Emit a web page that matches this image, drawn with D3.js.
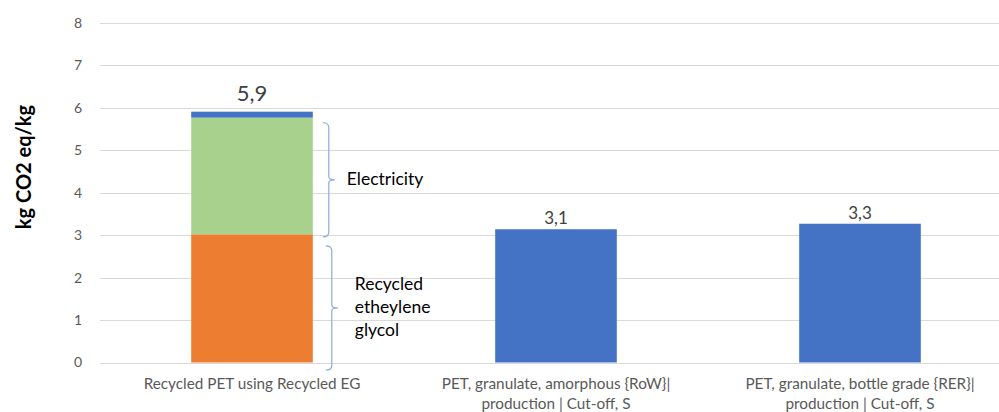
<!DOCTYPE html>
<html>
<head>
<meta charset="utf-8">
<script src="https://cdn.jsdelivr.net/npm/d3@7"></script>
<style>
  body { margin: 0; background: #fff; }
  svg { font-family: Lato, "Open Sans", sans-serif; display: block; }
</style>
</head>
<body>
<svg width="999" height="412"></svg>
<script>
// chart data
const categories = [
  ["Recycled PET using Recycled EG"],
  ["PET, granulate, amorphous {RoW}|", "production | Cut-off, S"],
  ["PET, granulate, bottle grade {RER}|", "production | Cut-off, S"]
];
const seriesNames = ["Recycled ethylene glycol", "Electricity", "Other"];
const egValues = [3.02, 0, 0];
const electricityValues = [2.75, 0, 0];
const otherValues = [0.14, 3.14, 3.27];
const yTicks = [0, 1, 2, 3, 4, 5, 6, 7, 8];

// brace annotations (value range in kg CO2 eq/kg)
const braces = [
  { lines: ["Electricity"], from: 2.96, to: 5.65, dx: 16, tx: 18 },
  { lines: ["Recycled", "etheylene", "glycol"], from: -0.18, to: 2.75, dx: 19, tx: 23 }
];

const colors = ["#ED7D31", "#A9D18E", "#4472C4"];

const svg = d3.select("svg");
const W = 999;

const keys = categories.map((d, i) => "c" + i);
const rows = keys.map((k, i) => ({
  key: k, lines: categories[i],
  s0: egValues[i], s1: electricityValues[i], s2: otherValues[i]
}));

const x = d3.scaleBand().domain(keys).range([100, 1012])
  .paddingInner(0.6).paddingOuter(0.3);
const y = d3.scaleLinear().domain([0, 8]).range([362.5, 23]);

// gridlines
svg.append("g").selectAll("line").data(yTicks).enter().append("line")
  .attr("x1", 100).attr("x2", W)
  .attr("y1", d => Math.round(y(d)) + 0.5).attr("y2", d => Math.round(y(d)) + 0.5)
  .attr("stroke", "#D9D9D9").attr("stroke-width", 1);

// y axis labels
const yAxis = d3.axisLeft(y).tickValues(yTicks).tickSize(0).tickPadding(0);
svg.append("g").attr("transform", "translate(82,0)").call(yAxis)
  .call(g => g.select(".domain").remove())
  .selectAll("text")
  .attr("fill", "#595959").style("font-size", "14px")
  .style("font-family", "Lato, sans-serif");

// y title
svg.append("text")
  .attr("transform", "translate(31,167) rotate(-90)")
  .attr("text-anchor", "middle")
  .style("font-size", "20px").style("font-weight", "bold")
  .attr("fill", "#000")
  .text("kg CO2 eq/kg");

// stacked bars
const stack = d3.stack().keys(["s0", "s1", "s2"]);
const layers = stack(rows);
svg.append("g").selectAll("g").data(layers).enter().append("g")
  .attr("fill", (d, i) => colors[i])
  .selectAll("rect").data(d => d).enter().append("rect")
  .attr("x", d => x(d.data.key))
  .attr("width", x.bandwidth())
  .attr("y", d => y(d[1]))
  .attr("height", d => Math.max(0, y(d[0]) - y(d[1])));

// total labels
const fmt = d3.formatLocale({ decimal: ",", thousands: ".", grouping: [3], currency: ["", ""] }).format(".1f");
svg.append("g").selectAll("text").data(rows).enter().append("text")
  .attr("x", d => x(d.key) + x.bandwidth() / 2)
  .attr("y", (d, i) => y(d.s0 + d.s1 + d.s2) - (i === 0 ? 11 : 5))
  .attr("text-anchor", "middle")
  .attr("fill", "#404040")
  .style("font-size", (d, i) => i === 0 ? "22px" : "17px")
  .text(d => fmt(d.s0 + d.s1 + d.s2));

// category labels
const cat = svg.append("g").selectAll("text").data(rows).enter().append("text")
  .attr("x", d => x(d.key) + x.bandwidth() / 2)
  .attr("y", 389)
  .attr("text-anchor", "middle")
  .attr("fill", "#595959")
  .style("font-size", "15.3px");
cat.selectAll("tspan").data(d => d.lines).enter().append("tspan")
  .attr("x", function () { return d3.select(this.parentNode).attr("x"); })
  .attr("dy", (d, i) => i === 0 ? 0 : 20)
  .text(d => d);

// braces
const barRight = x(keys[0]) + x.bandwidth();
braces.forEach(b => {
  const bx = barRight + b.dx;
  const top = y(b.to), bot = y(b.from), mid = (top + bot) / 2;
  const p = `M${bx - 6},${top} Q${bx},${top} ${bx},${top + 5} L${bx},${mid - 3} Q${bx},${mid} ${bx + 6},${mid}`
    + ` Q${bx},${mid} ${bx},${mid + 3} L${bx},${bot - 5} Q${bx},${bot} ${bx - 6},${bot}`;
  svg.append("path").attr("d", p).attr("fill", "none")
    .attr("stroke", "#8FAADC").attr("stroke-width", 1.2);
  const t = svg.append("text")
    .attr("y", mid + 5 - (b.lines.length - 1) / 2 * 23)
    .attr("fill", "#000").style("font-size", "17.5px");
  t.selectAll("tspan").data(b.lines).enter().append("tspan")
    .attr("x", bx + b.tx)
    .attr("dy", (d, i) => i === 0 ? 0 : 23)
    .text(d => d);
});
</script>
</body>
</html>
